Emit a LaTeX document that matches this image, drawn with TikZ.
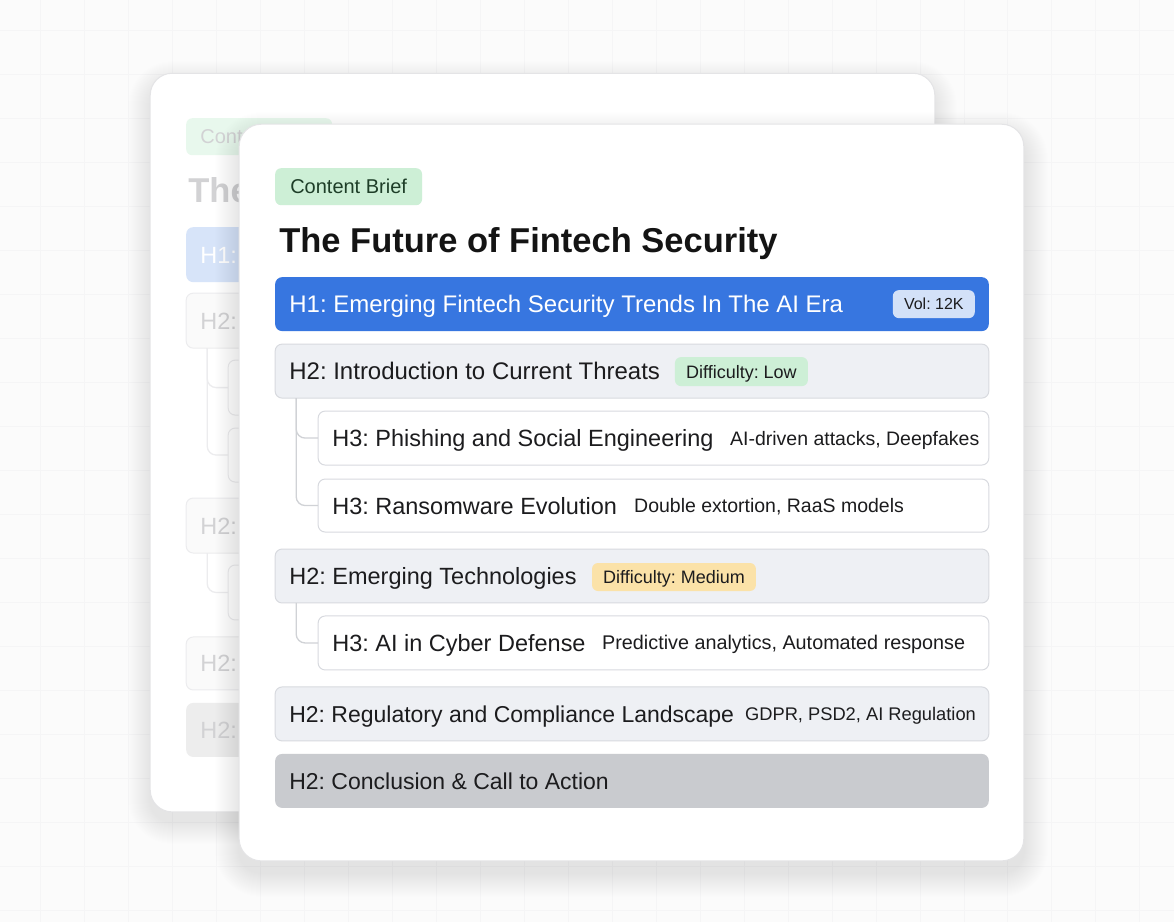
\documentclass[tikz,border=0pt]{standalone}
\usepackage{fontspec}
\setmainfont{Liberation Sans}
\usetikzlibrary{calc}
\frenchspacing
\definecolor{ink}{RGB}{28,28,30}
\definecolor{hblue}{RGB}{55,118,224}
\definecolor{volblue}{RGB}{211,225,248}
\definecolor{htwofill}{RGB}{238,240,244}
\definecolor{boxline}{RGB}{216,218,223}
\definecolor{pgreen}{RGB}{205,239,214}
\definecolor{tgreen}{RGB}{30,62,40}
\definecolor{porange}{RGB}{251,226,168}
\definecolor{concl}{RGB}{201,203,207}
\definecolor{connline}{RGB}{208,210,214}
\definecolor{cardline}{RGB}{228,228,230}
\definecolor{bgfill}{RGB}{251,251,251}
\definecolor{gridc}{RGB}{245,245,246}
\definecolor{fadetxt}{RGB}{210,210,212}
\definecolor{fadeline}{RGB}{236,236,238}
\tikzset{
  box/.style={draw=boxline, line width=1pt, rounded corners=7pt, inner sep=0pt, outer sep=0pt, anchor=north west, minimum height=54pt},
  hone/.style={box, draw=none, fill=hblue, minimum width=714pt},
  htwo/.style={box, fill=htwofill, minimum width=714pt},
  hthree/.style={box, fill=white, minimum width=671pt},
  lbl/.style={anchor=west, inner sep=0pt, text height=17pt, text depth=0pt, font=\fontsize{23.5}{28}\selectfont, text=ink},
  side/.style={anchor=west, inner sep=0pt, text height=14pt, text depth=0pt, font=\fontsize{19.5}{22}\selectfont, text=ink},
  pill/.style={rounded corners=6pt, inner sep=0pt, outer sep=0pt, anchor=north west, text height=13pt, text depth=0pt, font=\fontsize{18}{20}\selectfont, text=ink, minimum height=29pt},
  conn/.style={draw=connline, line width=1.3pt, rounded corners=9pt},
  fbox/.style={draw=fadeline, line width=1pt, rounded corners=7pt, inner sep=0pt, outer sep=0pt, anchor=north west, minimum height=54pt},
  flbl/.style={anchor=west, inner sep=0pt, text height=17pt, text depth=0pt, font=\fontsize{23.5}{28}\selectfont, text=fadetxt},
  fconn/.style={draw=fadeline, line width=1.3pt, rounded corners=9pt},
  card/.style={fill=white, draw=cardline, line width=1pt, rounded corners=22pt},
}
\begin{document}
\begin{tikzpicture}[x=1pt,y=-1pt]
% background
\fill[bgfill] (0,0) rectangle (1174,922);
\foreach \gx in {40,84,...,1174} { \draw[gridc, line width=0.6pt] (\gx,0) -- (\gx,922); }
\foreach \gy in {30,74,...,922} { \draw[gridc, line width=0.6pt] (0,\gy) -- (1174,\gy); }
\useasboundingbox (0,0) rectangle (1174,922);

% ---------- back card ----------
\foreach \i in {1,...,22} {
  \pgfmathsetmacro\rr{22+\i}
  \fill[black, opacity=0.0045, rounded corners=\rr pt] (150-\i,73-\i+10) rectangle (935+\i,812+\i+10);
}
\draw[card] (150,73) rectangle (935,812);
\node[pill, fill=pgreen!45, minimum width=146pt, minimum height=37pt] (bpill) at (186,118) {};
\node[anchor=west, inner sep=0pt, text height=14.3pt, text depth=0pt, font=\fontsize{20}{24}\selectfont, text=fadetxt] (bpillt) at ($(bpill.west)+(14,0)$) {Cont};
\node[anchor=base west, inner sep=0pt, font=\fontsize{34.5}{40}\selectfont\bfseries, text=fadetxt] (btitle) at (188,202) {The};
\node[fbox, draw=none, fill=hblue!20, minimum width=714pt, minimum height=55pt] (bh1) at (186,227) {};
\node[flbl, text=white] (bh1t) at ($(bh1.west)+(14,0)$) {H1:};
\node[fbox, fill=white!98!black, minimum width=714pt, minimum height=55pt] (bh2a) at (186,293) {};
\node[flbl] (bh2at) at ($(bh2a.west)+(14,0)$) {H2:};
\node[fbox, fill=white, minimum width=671pt, minimum height=55pt] (bh3a) at (228,360) {};
\node[fbox, fill=white, minimum width=671pt] (bh3b) at (228,428) {};
\draw[fconn] ($(bh2a.south west)+(21,0)$) |- (bh3a.west);
\draw[fconn] ($(bh2a.south west)+(21,0)$) |- (bh3b.west);
\node[fbox, fill=white!98!black, minimum width=714pt, minimum height=55pt] (bh2b) at (186,498) {};
\node[flbl] (bh2bt) at ($(bh2b.west)+(14,0)$) {H2:};
\node[fbox, fill=white, minimum width=671pt, minimum height=55pt] (bh3c) at (228,565) {};
\draw[fconn] ($(bh2b.south west)+(21,0)$) |- (bh3c.west);
\node[fbox, fill=white!98!black, minimum width=714pt, minimum height=53pt] (bh2c) at (186,637) {};
\node[flbl] (bh2ct) at ($(bh2c.west)+(14,0)$) {H2:};
\node[fbox, draw=none, fill=white!93!black, minimum width=714pt] (bh2d) at (186,703) {};
\node[flbl] (bh2dt) at ($(bh2d.west)+(14,0)$) {H2:};

% ---------- front card ----------
\foreach \i in {1,...,24} {
  \pgfmathsetmacro\rr{22+\i}
  \fill[black, opacity=0.005, rounded corners=\rr pt] (239-\i,124-\i+12) rectangle (1024+\i,861+\i+12);
}
\draw[card] (239,124) rectangle (1024,861);

\node[pill, fill=pgreen, minimum width=147pt, minimum height=37pt, text=tgreen, font=\fontsize{20}{24}\selectfont, text height=14.3pt] (cb) at (275,168) {Content Brief};
\node[anchor=base west, inner sep=0pt, font=\fontsize{34.5}{40}\selectfont\bfseries, text=black!92] (title) at (279,252) {The Future of Fintech Security};

% H1
\node[hone] (h1) at (275,277) {};
\node[lbl, text=white, font=\fontsize{24}{28}\selectfont] (h1t) at ($(h1.west)+(14,0)$) {H1: Emerging Fintech Security Trends In The AI Era};
\node[pill, fill=volblue, minimum width=82pt, minimum height=28pt, font=\fontsize{16}{20}\selectfont, text height=11.6pt] (vol) at (893,290) {Vol: 12K};

% H2 intro
\node[htwo] (h2a) at (275,344) {};
\node[lbl, font=\fontsize{24}{28}\selectfont] (h2at) at ($(h2a.west)+(14,0)$) {H2: Introduction to Current Threats};
\node[pill, fill=pgreen, minimum width=133pt] (dlow) at (675,357) {Difficulty: Low};

% H3s
\node[hthree] (h3a) at (318,411) {};
\node[lbl] (h3at) at ($(h3a.west)+(14,0)$) {H3: Phishing and Social Engineering};
\node[side] (h3as) at (730,438) {AI-driven attacks, Deepfakes};
\node[hthree, minimum height=53pt] (h3b) at (318,479) {};
\node[lbl] (h3bt) at ($(h3b.west)+(14,0)$) {H3: Ransomware Evolution};
\node[side] (h3bs) at (634,505.5) {Double extortion, RaaS models};
\draw[conn] ($(h2a.south west)+(21,0)$) |- (h3a.west);
\draw[conn] ($(h2a.south west)+(21,0)$) |- (h3b.west);

% H2 emerging
\node[htwo] (h2b) at (275,549) {};
\node[lbl] (h2bt) at ($(h2b.west)+(14,0)$) {H2: Emerging Technologies};
\node[pill, fill=porange, minimum width=164pt, minimum height=28pt] (dmed) at (592,563) {Difficulty: Medium};
\node[hthree] (h3c) at (318,616) {};
\node[lbl] (h3ct) at ($(h3c.west)+(14,0)$) {H3: AI in Cyber Defense};
\node[side, font=\fontsize{19.8}{22}\selectfont] (h3cs) at (602,643) {Predictive analytics, Automated response};
\draw[conn] ($(h2b.south west)+(21,0)$) |- (h3c.west);

% H2 regulatory
\node[htwo] (h2c) at (275,687) {};
\node[lbl, font=\fontsize{23}{28}\selectfont] (h2ct) at ($(h2c.west)+(14,0)$) {H2: Regulatory and Compliance Landscape};
\node[side, font=\fontsize{18.3}{22}\selectfont, text height=13.2pt] (h2cs) at (745,714) {GDPR, PSD2, AI Regulation};

% H2 conclusion
\node[htwo, draw=none, fill=concl] (h2d) at (275,754) {};
\node[lbl, font=\fontsize{23}{28}\selectfont] (h2dt) at ($(h2d.west)+(14,0)$) {H2: Conclusion \& Call to Action};
\end{tikzpicture}
\end{document}
